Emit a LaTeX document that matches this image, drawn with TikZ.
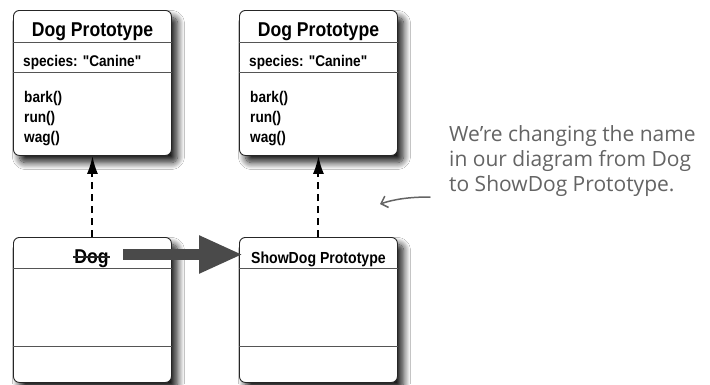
\documentclass[tikz,border=0pt]{standalone}
\usepackage{fontspec}
\newfontfamily\boxfont{Liberation Sans}[FakeStretch=0.88]
\newfontfamily\notefont{Open Sans}
\usetikzlibrary{arrows.meta,calc,shadows.blur}
\definecolor{sepcol}{HTML}{555555}
\definecolor{bigarrow}{HTML}{4A4A4A}
\definecolor{notegray}{HTML}{646464}
\begin{document}
\begin{tikzpicture}[x=1pt,y=-1pt,
  classbox/.style={draw=black!85, line width=0.9pt, rounded corners=6pt, fill=white,
    minimum width=158pt, inner sep=0pt, anchor=north west,
    blur shadow={shadow xshift=6pt,shadow yshift=-7pt,shadow blur radius=7pt,shadow blur steps=12,shadow opacity=90}},
  sepline/.style={draw=sepcol, line width=0.8pt},
  headtxt/.style={font=\boxfont\bfseries\fontsize{20}{22}\selectfont, anchor=base, inner sep=0pt},
  bodytxt/.style={font=\boxfont\bfseries\fontsize{15.5}{18}\selectfont, anchor=base west, inner sep=0pt},
  inherit/.style={line width=2pt, dash pattern=on 7pt off 5pt, -{Latex[length=18pt,width=11pt]}},
  notetxt/.style={font=\notefont\fontsize{21}{25}\selectfont, text=notegray, anchor=base west, inner sep=0pt}
]
\useasboundingbox[fill=white] (0,0) rectangle (710,384);

% top boxes
\node[classbox, minimum height=145pt] (b1) at (13,10) {};
\node[classbox, minimum height=145pt] (b2) at (239,10) {};
% bottom boxes
\node[classbox, minimum height=145pt] (b3) at (13,237) {};
\node[classbox, minimum height=145pt] (b4) at (239,237) {};

\foreach \b in {b1,b2}{
  \draw[sepline] ($(\b.north west)+(0,32)$) -- ($(\b.north east)+(0,32)$);
  \draw[sepline] ($(\b.north west)+(0,62)$) -- ($(\b.north east)+(0,62)$);
}
\foreach \b in {b3,b4}{
  \draw[sepline] ($(\b.north west)+(0,31)$) -- ($(\b.north east)+(0,31)$);
  \draw[sepline] ($(\b.north west)+(0,109)$) -- ($(\b.north east)+(0,109)$);
}

% texts top-left
\node[headtxt] (h1) at ($(b1.north)+(0,26)$) {Dog Prototype};
\node[bodytxt] (s1) at ($(b1.north west)+(10,56)$) {species: "Canine"};
\node[bodytxt] (m1a) at ($(b1.north west)+(11,92)$) {bark()};
\node[bodytxt] (m1b) at ($(b1.north west)+(11,112)$) {run()};
\node[bodytxt] (m1c) at ($(b1.north west)+(11,132)$) {wag()};
% texts top-right
\node[headtxt] (h2) at ($(b2.north)+(0,26)$) {Dog Prototype};
\node[bodytxt] (s2) at ($(b2.north west)+(10,56)$) {species: "Canine"};
\node[bodytxt] (m2a) at ($(b2.north west)+(11,92)$) {bark()};
\node[bodytxt] (m2b) at ($(b2.north west)+(11,112)$) {run()};
\node[bodytxt] (m2c) at ($(b2.north west)+(11,132)$) {wag()};
% bottom texts
\node[headtxt] (dog) at ($(b3.north)+(-1,26)$) {Dog};
\draw[line width=1.5pt, black!85] ($(dog.base west)+(-1,-6)$) -- ($(dog.base east)+(1,-6)$);
\node[headtxt, font=\boxfont\bfseries\fontsize{16}{18}\selectfont] (sd) at ($(b4.north)+(0,26)$) {ShowDog Prototype};

% inheritance arrows
\draw[inherit] (b3.north) -- (b1.south);
\draw[inherit] (b4.north) -- (b2.south);

% big rename arrow
\coordinate (bigstart) at ($(b3.north west)+(110,17.5)$);
\coordinate (bigend) at ($(b4.north west)+(4,17.5)$);
\draw[bigarrow, line width=11pt, -{Triangle[length=44pt,width=35pt]}] (bigstart) -- (bigend);

% note
\node[notetxt] (n1) at (449,141) {We’re changing the name};
\node[notetxt] (n2) at (449,166) {in our diagram from Dog};
\node[notetxt] (n3) at (449,191) {to ShowDog Prototype.};
\coordinate (na1) at (430,197);
\coordinate (na2) at (380,204);
\draw[notegray, line width=1.5pt, line cap=round, -{Straight Barb[length=6pt,width=12pt]}]
  (na1) .. controls (410,197) and (395,199) .. (na2);
\end{tikzpicture}
\end{document}
